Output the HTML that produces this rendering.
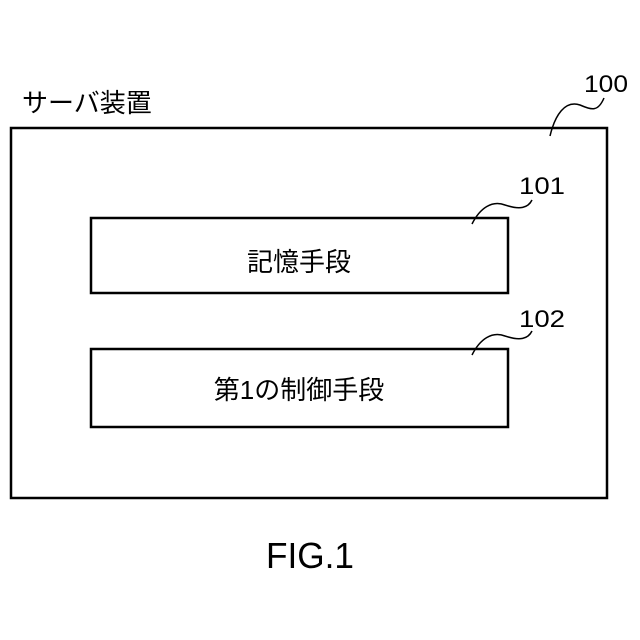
<!DOCTYPE html><html><head><meta charset="utf-8"><style>body{margin:0;background:#fff}</style></head><body>
<svg width="640" height="640" xmlns="http://www.w3.org/2000/svg" style="display:block">
<g fill="none" stroke="#000" stroke-width="2.5">
<rect x="11" y="128" width="596" height="370"/>
<rect x="91" y="218" width="417" height="75"/>
<rect x="91" y="349" width="417" height="78"/>
</g>
<g fill="none" stroke="#000" stroke-width="1.5">
<path d="M550,136 C555,115 565,100 580,105 C592,110 598,112 604,98"/>
<path d="M472,224 C480,208 492,200 505,205 C520,210 528,208 532,200"/>
<path d="M472,355 C480,339 492,331 505,336 C520,341 528,339 532,331"/>
</g>
<g font-family="Liberation Sans, Noto Sans CJK JP, sans-serif" fill="#000">
<text x="22" y="112" font-size="26">サーバ装置</text>
<text x="584" y="92" font-size="24" textLength="44" lengthAdjust="spacingAndGlyphs">100</text>
<text x="519" y="194" font-size="24" textLength="46" lengthAdjust="spacingAndGlyphs">101</text>
<text x="519" y="327" font-size="24" textLength="46" lengthAdjust="spacingAndGlyphs">102</text>
<text x="299" y="271" font-size="26" text-anchor="middle">記憶手段</text>
<text x="299" y="399" font-size="26" text-anchor="middle">第1の制御手段</text>
<text x="310" y="568" font-size="36" text-anchor="middle" textLength="88" lengthAdjust="spacingAndGlyphs">FIG.1</text>
</g>
</svg>
</body></html>
